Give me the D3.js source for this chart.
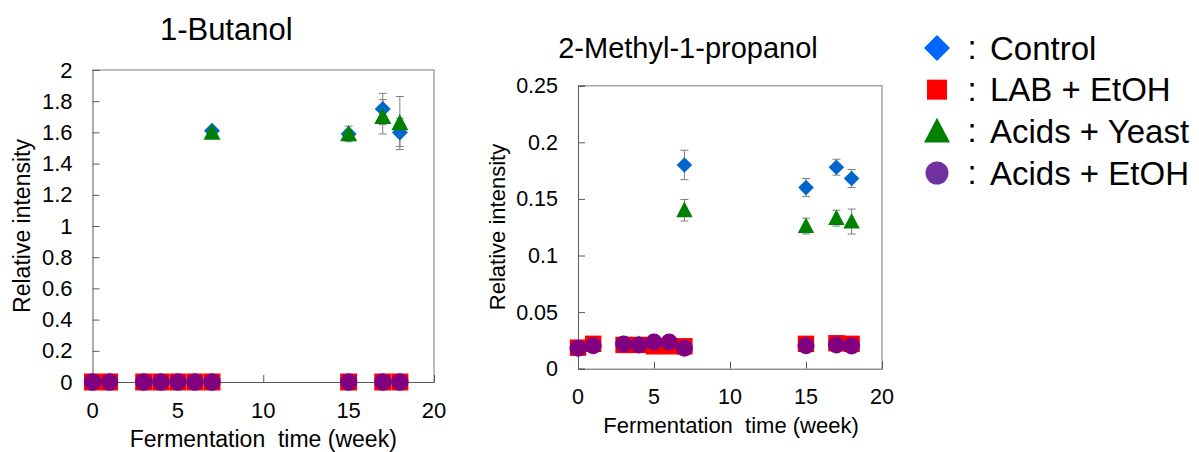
<!DOCTYPE html>
<html lang="en">
<head>
<meta charset="utf-8">
<title>Relative intensity over fermentation time</title>
<script src="https://cdn.jsdelivr.net/npm/d3@7"></script>
<style>
  body { margin: 0; background: #fff; }
  text { font-family: "Liberation Sans", Arial, sans-serif; fill: #000; }
</style>
</head>
<body>
<script>
// ---- data ----
var weeks = [0, 1, 3, 4, 5, 6, 7, 15, 17, 18];
var seriesNames = ["Control", "LAB + EtOH", "Acids + Yeast", "Acids + EtOH"];

// 1-Butanol
var butControl    = [null, null, null, null, null, null, 1.61, 1.59, 1.75, 1.60];
var butControlErr = [0, 0, 0, 0, 0, 0, 0.01, 0.02, 0.10, 0.09];
var butLab        = [0, 0, 0, 0, 0, 0, 0, 0, 0, 0];
var butYeast      = [0, 0, 0, 0, 0, 0, 1.60, 1.59, 1.70, 1.66];
var butYeastErr   = [0, 0, 0, 0, 0, 0, 0.01, 0.05, 0.11, 0.17];
var butEtoh       = [0, 0, 0, 0, 0, 0, 0, 0, 0, 0];
var butTicks      = [0, 0.2, 0.4, 0.6, 0.8, 1, 1.2, 1.4, 1.6, 1.8, 2];

// 2-Methyl-1-propanol
var mpControl    = [null, null, null, null, null, null, 0.180, 0.160, 0.178, 0.168];
var mpControlErr = [0, 0, 0, 0, 0, 0, 0.013, 0.008, 0.007, 0.008];
var mpLab        = [0.0186, 0.022, 0.021, 0.021, 0.0198, 0.0198, 0.0198, 0.022, 0.0225, 0.022];
var mpYeast      = [0.018, 0.021, 0.022, 0.022, 0.021, 0.021, 0.140, 0.126, 0.133, 0.130];
var mpYeastErr   = [0, 0, 0, 0, 0, 0, 0.0095, 0.007, 0.007, 0.011];
var mpEtoh       = [0.018, 0.0203, 0.0218, 0.021, 0.0236, 0.0236, 0.018, 0.0203, 0.021, 0.020];
var mpTicks      = [0, 0.05, 0.1, 0.15, 0.2, 0.25];

var xTicks = [0, 5, 10, 15, 20];

var w = 1199, h = 452;
var svg = d3.select("body").append("svg").attr("width", w).attr("height", h);

// marker shapes centred on 0,0
function shape(kind, s) {
  if (kind == "diamond") return "M0," + (-s) + "L" + s + ",0L0," + s + "L" + (-s) + ",0Z";
  if (kind == "square") return "M" + (-s) + "," + (-s) + "h" + (2 * s) + "v" + (2 * s) + "h" + (-2 * s) + "Z";
  if (kind == "triangle") return "M0," + (-s * 1.05) + "L" + s + "," + (s * 0.85) + "L" + (-s) + "," + (s * 0.85) + "Z";
  return d3.arc()({innerRadius: 0, outerRadius: s, startAngle: 0, endAngle: 2 * Math.PI});
}

function panel(opt) {
  var x = d3.scaleLinear().domain([0, 20]).range([opt.left, opt.right]);
  var y = d3.scaleLinear().domain([0, opt.ymax]).range([opt.bottom, opt.top]);
  var g = svg.append("g");

  // frame: top + right light grey
  g.append("path")
    .attr("d", "M" + opt.left + "," + opt.top + "H" + opt.right + "V" + opt.bottom)
    .attr("fill", "none").attr("stroke", "#a6a6a6").attr("stroke-width", 1.5);

  g.append("g").attr("transform", "translate(" + opt.left + ",0)")
    .call(d3.axisRight(y).tickValues(opt.yticks).tickSize(7).tickFormat(""));
  g.append("g").attr("transform", "translate(0," + opt.bottom + ")")
    .call(d3.axisTop(x).tickValues(xTicks).tickSize(7).tickFormat(""));
  g.selectAll(".domain").attr("stroke", "#595959");
  g.selectAll(".tick line").attr("stroke", "#595959");

  // tick labels
  g.selectAll(".ylab").data(opt.yticks).enter().append("text")
    .attr("x", opt.left - 20).attr("y", function(d) { return y(d) + 7.5; })
    .attr("text-anchor", "end").attr("font-size", opt.tickSize + "px")
    .text(function(d) { return d; });
  g.selectAll(".xlab").data(xTicks).enter().append("text")
    .attr("x", function(d) { return x(d); }).attr("y", opt.bottom + opt.xlabDy)
    .attr("text-anchor", "middle").attr("font-size", opt.tickSize + "px")
    .text(function(d) { return d; });

  g.append("text").attr("x", (opt.left + opt.right) / 2 + opt.titleDx).attr("y", opt.titleY)
    .attr("text-anchor", "middle").attr("font-size", opt.titleSize + "px").text(opt.title);
  g.append("text").attr("x", (opt.left + opt.right) / 2 + opt.xtitleDx).attr("y", opt.xtitleY)
    .attr("text-anchor", "middle").attr("font-size", opt.axisSize + "px")
    .attr("xml:space", "preserve").text("Fermentation  time (week)");
  g.append("text")
    .attr("transform", "translate(" + opt.ytitleX + "," + opt.ytitleY + ") rotate(-90)")
    .attr("text-anchor", "middle").attr("font-size", opt.axisSize + "px").text("Relative intensity");

  // error bars first
  opt.errs.forEach(function(s) {
    var pts = weeks.map(function(wk, i) { return {wk: wk, v: s.vals[i], e: s.err[i]}; })
      .filter(function(p) { return p.v != null && p.e > 0; });
    var eg = g.append("g").attr("stroke", "#7f7f7f").attr("stroke-width", 1).attr("fill", "none");
    eg.selectAll("path").data(pts).enter().append("path")
      .attr("d", function(p) {
        var cx = x(p.wk), y1 = y(p.v + p.e), y2 = y(p.v - p.e);
        return "M" + (cx - 4) + "," + y1 + "H" + (cx + 4) + "M" + cx + "," + y1 + "V" + y2 +
               "M" + (cx - 4) + "," + y2 + "H" + (cx + 4);
      });
  });

  opt.series.forEach(function(s) {
    var pts = weeks.map(function(wk, i) { return {wk: wk, v: s.vals[i]}; })
      .filter(function(p) { return p.v != null; });
    g.append("g").selectAll("path").data(pts).enter().append("path")
      .attr("d", shape(s.kind, s.size))
      .attr("transform", function(p) { return "translate(" + x(p.wk) + "," + y(p.v) + ")"; })
      .attr("fill", s.color);
  });
}

panel({
  left: 92.5, right: 434, top: 70, bottom: 382, ymax: 2, yticks: butTicks,
  title: "1-Butanol", titleY: 40, titleDx: -37, titleSize: 31,
  tickSize: 22, axisSize: 23, xlabDy: 36, xtitleY: 447, xtitleDx: 0,
  ytitleX: 30, ytitleY: 226,
  errs: [{vals: butControl, err: butControlErr}, {vals: butYeast, err: butYeastErr}],
  series: [
    {vals: butControl, kind: "diamond", size: 8, color: "#0066cc"},
    {vals: butYeast, kind: "triangle", size: 8.5, color: "#008000"},
    {vals: butLab, kind: "square", size: 8.5, color: "#ff0000"},
    {vals: butEtoh, kind: "circle", size: 8.7, color: "#800080"}
  ]
});

panel({
  left: 578, right: 882, top: 85.7, bottom: 368.7, ymax: 0.25, yticks: mpTicks,
  title: "2-Methyl-1-propanol", titleY: 58, titleDx: -42, titleSize: 29,
  tickSize: 21.5, axisSize: 22, xlabDy: 35, xtitleY: 433, xtitleDx: 1,
  ytitleX: 505, ytitleY: 227,
  errs: [{vals: mpControl, err: mpControlErr}, {vals: mpYeast, err: mpYeastErr}],
  series: [
    {vals: mpControl, kind: "diamond", size: 7.8, color: "#0066cc"},
    {vals: mpYeast, kind: "triangle", size: 8.2, color: "#008000"},
    {vals: mpLab, kind: "square", size: 8.2, color: "#ff0000"},
    {vals: mpEtoh, kind: "circle", size: 8.5, color: "#800080"}
  ]
});

// legend
var legKinds = ["diamond", "square", "triangle", "circle"];
var legColors = ["#0066ff", "#ff0000", "#008000", "#7030a0"];
var legSizes = [13, 10, 13, 11.5];
var leg = svg.append("g");
var ly = d3.scalePoint().domain(seriesNames).range([48, 173]);
seriesNames.forEach(function(name, i) {
  leg.append("path").attr("d", shape(legKinds[i], legSizes[i]))
    .attr("transform", "translate(937," + ly(name) + ")").attr("fill", legColors[i]);
  leg.append("text").attr("x", 972).attr("y", ly(name) + 11).attr("text-anchor", "middle")
    .attr("font-size", "33px").text(":");
  leg.append("text").attr("x", 990).attr("y", ly(name) + 11.5).attr("font-size", "33px").text(name);
});
</script>
</body>
</html>
